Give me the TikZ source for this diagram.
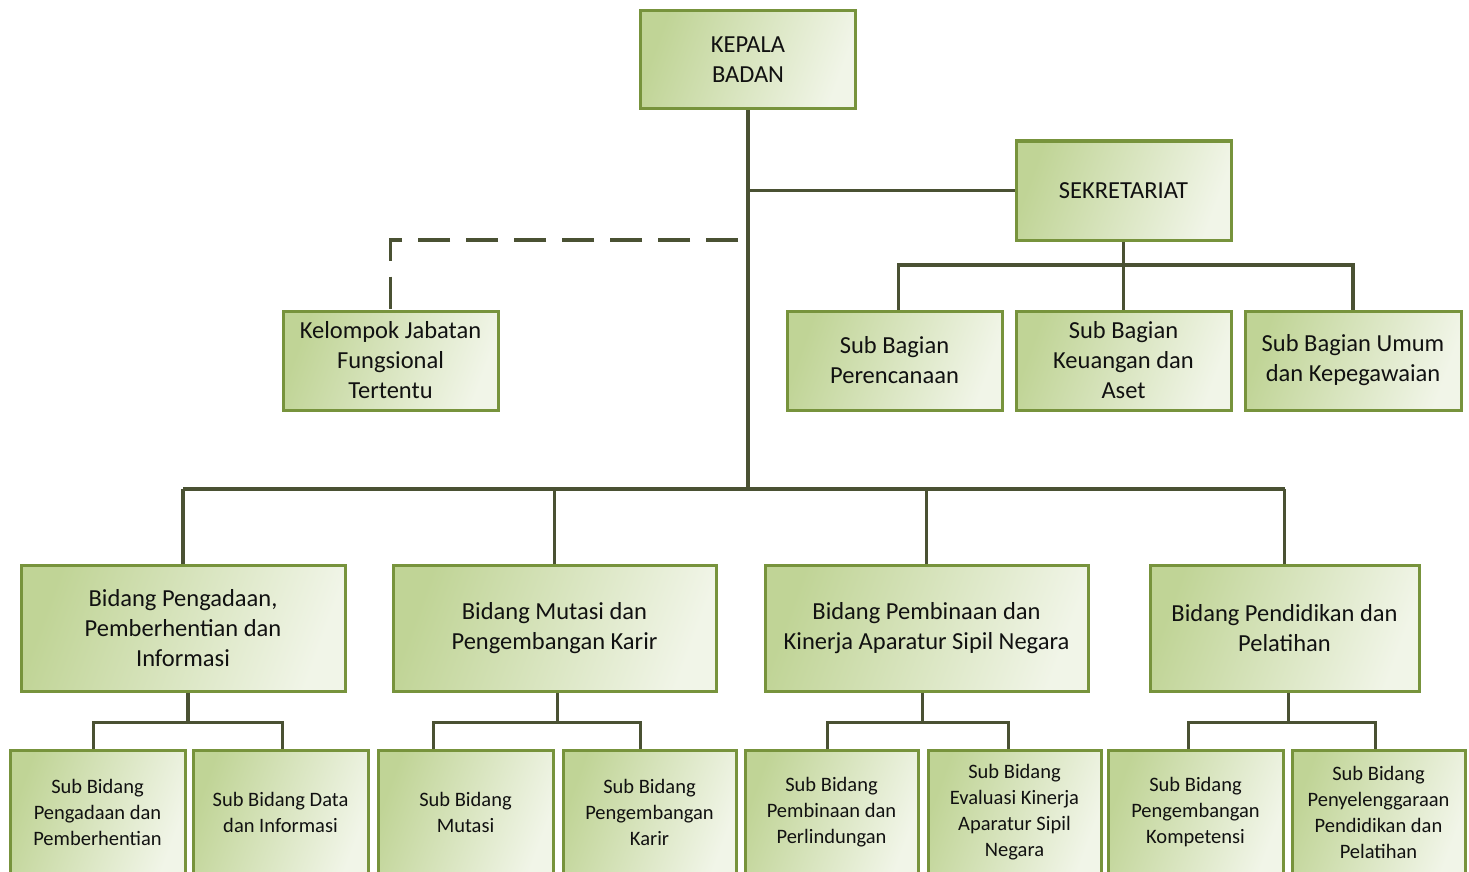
\documentclass[tikz,border=0pt]{standalone}
\usepackage{fontspec}
\setmainfont{Carlito}
\usetikzlibrary{calc}
\definecolor{boxborder}{HTML}{77933C}
\definecolor{boxdark}{HTML}{C0D496}
\definecolor{boxlight}{HTML}{F1F5E8}
\definecolor{linec}{HTML}{4A5133}
\definecolor{txt}{HTML}{111111}
\begin{document}
\begin{tikzpicture}[x=1pt,y=-1pt,
  box/.style={draw=boxborder, line width=3pt, left color=boxdark, right color=boxlight,
    shading angle=70, align=center, inner sep=0pt, text=txt},
  lvlA/.style={box, font=\fontsize{24.5}{30}\selectfont},
  lvlB/.style={box, font=\fontsize{20.5}{26}\selectfont, minimum height=124pt},
  conn/.style={draw=linec, line width=3.5pt},
  dconn/.style={conn, dash pattern=on 32pt off 16pt}]
\useasboundingbox (0,0) rectangle (1469,872);
\fill[white] (0,0) rectangle (1469,872);

% top level
\node[lvlA, minimum width=215pt, minimum height=98pt] (kepala) at (748,60) {KEPALA\\BADAN};
\node[lvlA, minimum width=215pt, minimum height=99pt] (sekre) at (1123.5,190.5) {SEKRETARIAT};
\node[lvlA, minimum width=215pt, minimum height=99pt] (kel) at (390.5,360.5) {Kelompok Jabatan\\Fungsional\\Tertentu};
\node[lvlA, minimum width=215pt, minimum height=99pt] (sbp) at (894.5,360.5) {Sub Bagian\\Perencanaan};
\node[lvlA, minimum width=215pt, minimum height=99pt] (sbk) at (1123.5,360.5) {Sub Bagian\\Keuangan dan\\Aset};
\node[lvlA, minimum width=216pt, minimum height=99pt] (sbu) at (1353,360.5) {Sub Bagian Umum\\dan Kepegawaian};

% bidang
\node[lvlA, minimum width=324pt, minimum height=126pt] (b1) at (183,628) {Bidang Pengadaan,\\Pemberhentian dan\\Informasi};
\node[lvlA, minimum width=323pt, minimum height=126pt] (b2) at (554.5,628) {Bidang Mutasi dan\\Pengembangan Karir};
\node[lvlA, minimum width=323pt, minimum height=126pt] (b3) at (926.5,628) {Bidang Pembinaan dan\\Kinerja Aparatur Sipil Negara};
\node[lvlA, minimum width=269pt, minimum height=126pt] (b4) at (1284.5,628) {Bidang Pendidikan dan\\Pelatihan};

% sub bidang
\node[lvlB, minimum width=175pt] (s1) at (97.5,812) {Sub Bidang\\Pengadaan dan\\Pemberhentian};
\node[lvlB, minimum width=175pt] (s2) at (280.5,812) {Sub Bidang Data\\dan Informasi};
\node[lvlB, minimum width=175pt] (s3) at (465.5,812) {Sub Bidang\\Mutasi};
\node[lvlB, minimum width=173pt] (s4) at (649.5,812) {Sub Bidang\\Pengembangan\\Karir};
\node[lvlB, minimum width=173pt] (s5) at (831.5,812) {Sub Bidang\\Pembinaan dan\\Perlindungan};
\node[lvlB, minimum width=173pt] (s6) at (1014.5,812) {Sub Bidang\\Evaluasi Kinerja\\Aparatur Sipil\\Negara};
\node[lvlB, minimum width=175pt] (s7) at (1195.5,812) {Sub Bidang\\Pengembangan\\Kompetensi};
\node[lvlB, minimum width=173pt] (s8) at (1378.5,812) {Sub Bidang\\Penyelenggaraan\\Pendidikan dan\\Pelatihan};

% main trunk
\coordinate (bus) at (kepala.south |- 0,489);
\draw[conn] (kepala.south) -- (bus);
\draw[conn] (kepala.south |- sekre.west) -- (sekre.west);
\draw[conn] (b1.north |- bus) -- (b4.north |- bus);
\foreach \b in {b1,b2,b3,b4} \draw[conn] (\b.north |- bus) -- (\b.north);

% dashed to fungsional
\coordinate (dend) at (738,240);
\draw[dconn] (dend) -| (kel.north);

% sekretariat children
\coordinate (sj) at (sekre.south |- 0,265);
\draw[conn] (sekre.south) -- (sj);
\draw[conn] ([xshift=4pt]sbp.north) |- (sj) -| (sbu.north);
\draw[conn] (sj) -- (sbk.north);

% bidang children
\draw[conn] ([xshift=5pt]b1.south) -- ++(0,30) coordinate (j1);
\draw[conn] ([xshift=-4pt]s1.north) |- (j1) -| ([xshift=2pt]s2.north);
\draw[conn] ([xshift=3pt]b2.south) -- ++(0,30) coordinate (j2);
\draw[conn] ([xshift=-32pt]s3.north) |- (j2) -| ([xshift=-9pt]s4.north);
\draw[conn] ([xshift=-4pt]b3.south) -- ++(0,30) coordinate (j3);
\draw[conn] ([xshift=-4pt]s5.north) |- (j3) -| ([xshift=-6pt]s6.north);
\draw[conn] ([xshift=4pt]b4.south) -- ++(0,30) coordinate (j4);
\draw[conn] ([xshift=-7pt]s7.north) |- (j4) -| ([xshift=-3pt]s8.north);
\end{tikzpicture}
\end{document}
